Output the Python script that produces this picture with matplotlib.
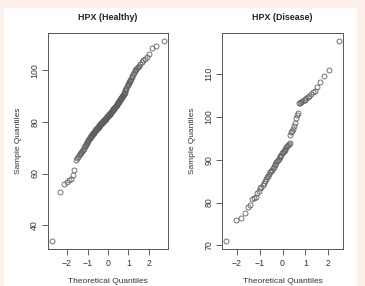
import matplotlib
matplotlib.use("Agg")
import matplotlib.pyplot as plt
from matplotlib.patches import Rectangle
from statistics import NormalDist

plt.rcParams['font.family'] = ['Liberation Sans', 'DejaVu Sans']

# sorted sample values
healthy = [
    33.9, 53.0, 56.0, 56.9, 57.4, 58.0, 59.3, 61.4, 65.3, 65.9,
    66.5, 67.0, 67.5, 67.9, 68.4, 68.8, 69.2, 69.6, 70.1, 70.6,
    71.0, 71.4, 71.9, 72.3, 72.7, 73.0, 73.4, 73.8, 74.0, 74.3,
    74.5, 74.7, 75.0, 75.2, 75.4, 75.6, 75.8, 76.1, 76.3, 76.5,
    76.7, 76.9, 77.1, 77.3, 77.5, 77.6, 77.8, 78.0, 78.2, 78.4,
    78.6, 78.8, 78.9, 79.1, 79.2, 79.4, 79.5, 79.7, 79.9, 80.0,
    80.2, 80.3, 80.5, 80.6, 80.8, 80.9, 81.0, 81.2, 81.3, 81.5,
    81.6, 81.8, 81.9, 82.1, 82.2, 82.4, 82.5, 82.7, 82.9, 83.1,
    83.2, 83.4, 83.6, 83.7, 83.9, 84.1, 84.2, 84.4, 84.6, 84.8,
    84.9, 85.1, 85.3, 85.4, 85.6, 85.8, 86.0, 86.2, 86.3, 86.6,
    86.8, 87.0, 87.2, 87.5, 87.7, 88.0, 88.2, 88.4, 88.7, 88.9,
    89.2, 89.4, 89.7, 90.0, 90.2, 90.5, 90.7, 91.0, 91.3, 91.8,
    92.3, 92.8, 93.3, 93.7, 94.1, 94.5, 94.9, 95.4, 95.8, 96.3,
    96.7, 97.3, 97.9, 98.4, 99.1, 99.7, 100.0, 100.4, 100.8, 101.2,
    101.6, 102.3, 103.0, 103.9, 104.5, 105.3, 106.3, 108.5, 109.3, 111.3,
]

disease = [
    71.0, 76.0, 76.4, 77.5, 78.9, 79.4, 80.8, 81.1, 81.4, 82.2,
    82.6, 83.3, 83.6, 84.2, 84.6, 85.0, 85.5, 85.9, 86.3, 86.7,
    87.1, 87.4, 87.7, 88.0, 88.3, 88.7, 89.0, 89.4, 89.7, 90.0,
    90.3, 90.6, 90.9, 91.2, 91.5, 91.8, 92.1, 92.4, 92.6, 92.9,
    93.2, 93.4, 93.7, 94.0, 95.9, 96.4, 96.8, 97.3, 98.0, 98.6,
    99.8, 100.5, 101.0, 103.3, 103.4, 103.5, 103.7, 103.9, 104.1, 104.4,
    104.7, 105.0, 105.4, 105.8, 106.2, 107.0, 108.1, 109.5, 110.9, 117.8,
]

titles = ['HPX (Healthy)', 'HPX (Disease)']
yticks_list = [[40, 60, 80, 100], [70, 80, 90, 100, 110]]
xticks = [-2, -1, 0, 1, 2]


def theoretical(n):
    # same plotting positions as R's ppoints()
    a = 3 / 8 if n <= 10 else 0.5
    nd = NormalDist()
    return [nd.inv_cdf((i + 1 - a) / (n + 1 - 2 * a)) for i in range(n)]


fig = plt.figure(figsize=(3.65, 2.86), dpi=100)
fig.patch.set_facecolor('#fdf0ea')
fig.patches.append(Rectangle((4 / 365, 0), 353 / 365, 278 / 286,
                             transform=fig.transFigure, facecolor='white',
                             edgecolor='none', zorder=-10))

positions = [[48 / 365, 37 / 286, 120 / 365, 216 / 286],
             [222 / 365, 37 / 286, 121 / 365, 216 / 286]]

for pos, sample, title, yt in zip(positions, [healthy, disease], titles, yticks_list):
    ax = fig.add_axes(pos)
    ax.plot(theoretical(len(sample)), sample, linestyle='none', marker='o',
            markersize=3.6, markerfacecolor='none', markeredgecolor='#5e5e5e',
            markeredgewidth=0.6)
    ax.margins(x=0.04, y=0.04)
    ax.set_xticks(xticks)
    ax.set_xticklabels(['\u22122', '\u22121', '0', '1', '2'])
    ax.set_yticks(yt)
    ax.set_title(title, fontsize=6.4, fontweight='bold', color='#222222', pad=9)
    ax.set_xlabel('Theoretical Quantiles', fontsize=6, color='#333333', labelpad=7)
    ax.set_ylabel('Sample Quantiles', fontsize=6, color='#333333', labelpad=6)
    ax.tick_params(direction='out', length=4.3, width=0.6, color='#444444',
                   labelsize=6.3, labelcolor='#333333', pad=3)
    ax.tick_params(axis='y', pad=2)
    for lab in ax.get_yticklabels():
        lab.set_rotation(90)
        lab.set_va('center')
    for sp in ax.spines.values():
        sp.set_linewidth(0.7)
        sp.set_color('#555555')

fig.savefig('out.png', dpi=100, facecolor=fig.get_facecolor())
